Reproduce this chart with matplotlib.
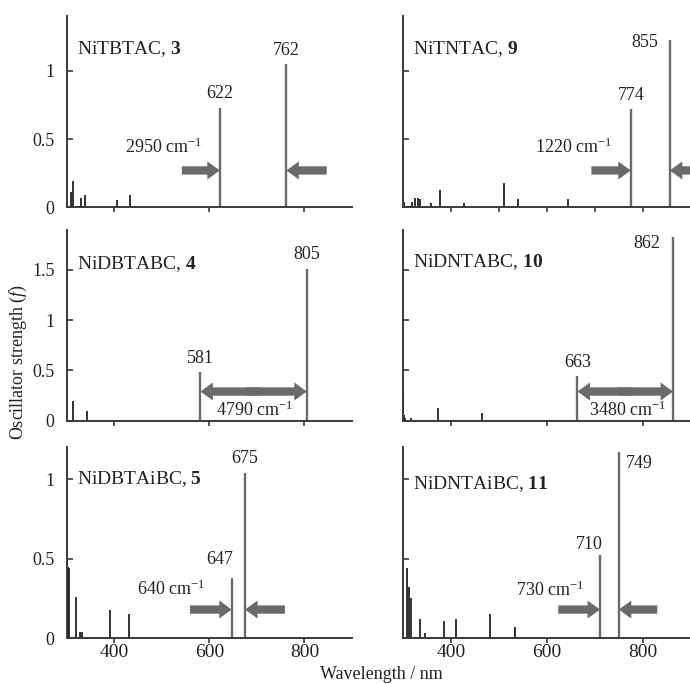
import matplotlib.pyplot as plt

plt.rcParams['font.family'] = 'Liberation Serif'
plt.rcParams['mathtext.fontset'] = 'custom'
plt.rcParams['mathtext.rm'] = 'Liberation Serif'
plt.rcParams['mathtext.it'] = 'Liberation Serif:italic'
plt.rcParams['mathtext.bf'] = 'Liberation Serif:bold'

# compound names / numbers, panels in reading order
names = ['NiTBTAC', 'NiTNTAC', 'NiDBTABC', 'NiDNTABC', 'NiDBTAiBC', 'NiDNTAiBC']
numbers = ['3', '9', '4', '10', '5', '11']

# the two lowest transitions (nm) and their oscillator strengths
peak_wl = [[622, 762], [774, 855], [581, 805], [663, 862], [647, 675], [710, 749]]
peak_f = [[0.73, 1.05], [0.72, 1.23], [0.48, 1.51], [0.44, 1.83], [0.38, 1.04], [0.52, 1.17]]
splitting = ['2950', '1220', '4790', '3480', '640', '730']

# weaker transitions
minor_wl = [
    [308, 313, 329, 338, 362, 406, 432],
    [303, 318, 325, 331, 335, 358, 377, 426, 510, 540, 644],
    [313, 342],
    [301, 303, 305, 317, 373, 465],
    [302, 304, 319, 327, 332, 341, 391, 431],
    [308, 312, 316, 335, 346, 386, 410, 481, 533],
]
minor_f = [
    [0.11, 0.19, 0.07, 0.09, 0.01, 0.05, 0.09],
    [0.04, 0.04, 0.065, 0.065, 0.06, 0.03, 0.125, 0.03, 0.18, 0.06, 0.06],
    [0.20, 0.10],
    [0.31, 0.06, 0.03, 0.03, 0.13, 0.08],
    [0.45, 0.44, 0.26, 0.04, 0.04, 0.01, 0.18, 0.15],
    [0.44, 0.32, 0.25, 0.12, 0.03, 0.11, 0.12, 0.15, 0.07],
]

y_max = [1.4, 1.4, 1.9, 1.9, 1.2, 1.2]
y_ticks = [[0, 0.5, 1], [0, 0.5, 1], [0, 0.5, 1, 1.5], [0, 0.5, 1, 1.5], [0, 0.5, 1], [0, 0.5, 1]]
y_ticklabels = [['0', '0.5', '1'], [], ['0', '0.5', '1', '1.5'], [], ['0', '0.5', '1'], []]
x_ticks = [[400, 600, 800], [400, 500, 600, 700, 800], [400, 600, 800],
           [400, 600, 800], [400, 600, 800], [400, 600, 800]]

# layout
lefts = [0.097, 0.584]
bottoms = [0.697, 0.385, 0.067]
W = [0.413, 0.418]
H = 0.279

label_y = [1.16, 1.16, 1.56, 1.58, 1.0, 0.97]
# peak label placement: (dx pt, dy pt, ha, va)
peak_lab = [
    [(0, 4, 'center', 'bottom'), (0, 4, 'center', 'bottom')],
    [(0, 4, 'center', 'bottom'), (-8, 4, 'right', 'top')],
    [(0, 4, 'center', 'bottom'), (0, 4, 'center', 'bottom')],
    [(0, 4, 'center', 'bottom'), (-9, 1, 'right', 'top')],
    [(1, 7, 'right', 'bottom'), (0, 4, 'center', 'bottom')],
    [(2, 2, 'right', 'bottom'), (5, -2, 'left', 'top')],
]
arrow_y = [0.27, 0.27, 0.29, 0.29, 0.18, 0.18]
arrow_from = [(542, 847), (692, 937), None, None, (559, 759), (623, 829)]
split_xy = [(504, 0.44), (655, 0.44), (696, 0.10), (768, 0.10), (519, 0.31), (606, 0.30)]

grey = '#6a6a6a'
dark = '#222222'
simple = 'simple,head_length=0.9,head_width=1.3,tail_width=0.6'

fig = plt.figure(figsize=(6.9, 6.84), dpi=100)

for i in range(6):
    row, col = i // 2, i % 2
    ax = fig.add_axes([lefts[col], bottoms[row], W[col], H])
    ax.set_xlim(300, 900)
    ax.set_ylim(0, y_max[i])
    for s in ['top', 'right']:
        ax.spines[s].set_visible(False)
    for s in ['left', 'bottom']:
        ax.spines[s].set_color('#3a3a3a')
        ax.spines[s].set_linewidth(1.4)

    ax.vlines(minor_wl[i], 0, minor_f[i], color=dark, lw=1.3)
    ax.vlines(peak_wl[i], 0, peak_f[i], color=grey, lw=1.7)

    for k in range(2):
        dx, dy, ha, va = peak_lab[i][k]
        ax.annotate(str(peak_wl[i][k]), (peak_wl[i][k], peak_f[i][k]),
                    xytext=(dx, dy), textcoords='offset points',
                    ha=ha, va=va, fontsize=13, color=dark)

    ay = arrow_y[i]
    a, b = peak_wl[i]
    if arrow_from[i] is None:
        # double arrow as two overlapping halves
        mid = (a + b) / 2
        pairs = ((a, mid + 15), (b, mid - 15))
    else:
        pairs = ((a, arrow_from[i][0]), (b, arrow_from[i][1]))
    for tip, start in pairs:
        ax.annotate('', xy=(tip, ay), xytext=(start, ay),
                    arrowprops=dict(arrowstyle=simple, color=grey, lw=0,
                                    shrinkA=0, shrinkB=0, mutation_scale=10))

    ax.text(split_xy[i][0], split_xy[i][1], splitting[i] + r' cm$^{-1}$',
            ha='center', va='center', fontsize=13, color=dark)
    ax.text(321, label_y[i], names[i] + r', $\mathbf{' + numbers[i] + '}$',
            ha='left', va='center', fontsize=14, color=dark)

    ax.set_yticks(y_ticks[i])
    if y_ticklabels[i]:
        ax.set_yticklabels(y_ticklabels[i])
    else:
        ax.set_yticklabels([])
    ax.set_xticks(x_ticks[i])
    if row < 2:
        ax.set_xticklabels([])
    ax.tick_params(axis='y', direction='in', length=4, width=1.2, pad=9,
                   labelsize=13, colors='#3a3a3a', labelcolor=dark)
    ax.tick_params(axis='x', direction='out', length=3.5, width=1.2, pad=1,
                   labelsize=14, colors='#3a3a3a', labelcolor=dark)

fig.text(0.026, 0.471, r'Oscillator strength ($f$)', rotation=90,
         ha='center', va='center', fontsize=13, color=dark)
fig.text(0.552, 0.027, 'Wavelength / nm', ha='center', va='top',
         fontsize=13, color=dark)

fig.savefig('out.png', dpi=100)
